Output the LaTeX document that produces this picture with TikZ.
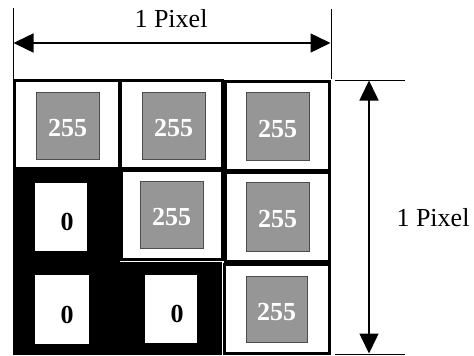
\documentclass[tikz,border=0pt]{standalone}
\usepackage{fontspec}
\setmainfont{Liberation Serif}
\usetikzlibrary{arrows.meta}
\definecolor{graybox}{RGB}{150,150,150}
\begin{document}
\begin{tikzpicture}[x=1pt,y=-1pt,
  cell/.style={draw=black, line width=3pt, fill=white, inner sep=0pt},
  blackcell/.style={fill=black, inner sep=0pt},
  graysq/.style={draw=black!70, line width=0.8pt, fill=graybox, inner sep=0pt},
  whitesq/.style={fill=white, inner sep=0pt},
  num/.style={font=\fontsize{26}{30}\selectfont\bfseries, inner sep=0pt},
  numw/.style={num, text=white},
  dimline/.style={line width=1pt},
  dimarrow/.style={line width=1.5pt, {Triangle[length=20pt,width=19pt]}-{Triangle[length=20pt,width=19pt]}},
  dimlabel/.style={font=\fontsize{26}{30}\selectfont, inner sep=0pt}
]
\useasboundingbox (0,0) rectangle (474,356);

% cells
\node[cell, minimum width=104.5pt, minimum height=88.5pt] (c11) at (66.75,124.25) {};
\node[cell, minimum width=101.5pt, minimum height=88.5pt] (c12) at (171.25,124.25) {};
\node[cell, minimum width=104pt, minimum height=89.5pt] (c13) at (277.5,125.75) {};
\node[blackcell, minimum width=107pt, minimum height=93pt] (c21) at (66.5,215.5) {};
\node[cell, minimum width=100.5pt, minimum height=88.5pt] (c22) at (171.75,214.75) {};
\node[cell, minimum width=104pt, minimum height=89pt] (c23) at (277.5,216.5) {};
\node[blackcell, minimum width=109pt, minimum height=93pt] (c31) at (67.5,308.5) {};
\node[blackcell, minimum width=100pt, minimum height=93pt] (c32) at (172,308.5) {};
\node[cell, minimum width=105pt, minimum height=89pt] (c33) at (277,309) {};

% inner squares
\node[graysq, minimum width=63pt, minimum height=67pt] (g11) at (67.5,125.5) {};
\node[graysq, minimum width=63pt, minimum height=67pt] (g12) at (173.5,125.5) {};
\node[graysq, minimum width=63pt, minimum height=68pt] (g13) at (277.5,126) {};
\node[whitesq, minimum width=52pt, minimum height=68pt] (w21) at (61,217) {};
\node[graysq, minimum width=63pt, minimum height=67pt] (g22) at (171.5,214.5) {};
\node[graysq, minimum width=63pt, minimum height=69pt] (g23) at (277.5,216.5) {};
\node[whitesq, minimum width=54pt, minimum height=69pt] (w31) at (62,309.5) {};
\node[whitesq, minimum width=52pt, minimum height=68pt] (w32) at (171,309) {};
\node[graysq, minimum width=61pt, minimum height=66pt] (g33) at (276.5,309) {};

% values
\node[numw] (t11) at ([yshift=-3pt]g11.center) {255};
\node[numw] (t12) at ([yshift=-3pt]g12.center) {255};
\node[numw] (t13) at ([yshift=-3pt]g13.center) {255};
\node[num] (t21) at ([xshift=6pt,yshift=-5pt]w21.center) {0};
\node[numw] (t22) at ([yshift=-3pt]g22.center) {255};
\node[numw] (t23) at ([yshift=-3pt]g23.center) {255};
\node[num] (t31) at ([xshift=5pt,yshift=-5pt]w31.center) {0};
\node[num] (t32) at ([xshift=6pt,yshift=-5pt]w32.center) {0};
\node[numw] (t33) at ([yshift=-3pt]g33.center) {255};

% top dimension
\coordinate (tl1) at (13,8);
\coordinate (tl2) at (13,79);
\coordinate (tr1) at (331,9);
\coordinate (tr2) at (331,79);
\coordinate (ta) at (13.5,43);
\coordinate (tb) at (330.5,43);
\draw[dimline] (tl1) -- (tl2);
\draw[dimline] (tr1) -- (tr2);
\draw[dimarrow] (ta) -- (tb);
\node[dimlabel] (toplabel) at (171,19) {1 Pixel};

% right dimension
\coordinate (rt1) at (335,80);
\coordinate (rt2) at (405,80);
\coordinate (rb1) at (335,354);
\coordinate (rb2) at (405,354);
\coordinate (ra) at (369,80.5);
\coordinate (rb) at (369,353.5);
\draw[dimline] (rt1) -- (rt2);
\draw[dimline] (rb1) -- (rb2);
\draw[dimarrow] (ra) -- (rb);
\node[dimlabel] (rightlabel) at (433,218) {1 Pixel};
\end{tikzpicture}
\end{document}
